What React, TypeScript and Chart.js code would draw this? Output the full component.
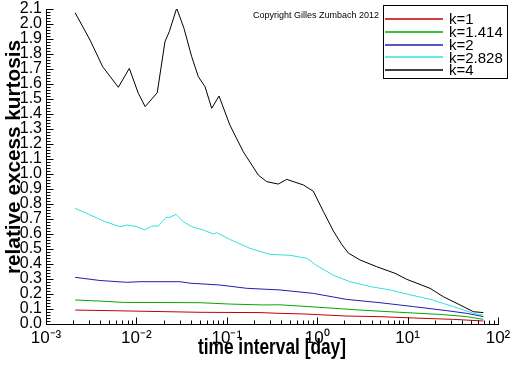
import React, { useEffect, useRef } from "react";
import { Chart, registerables } from "chart.js";

Chart.register(...registerables);

// ---- data (x in days, y relative excess kurtosis) ----
const k1X = [0.0021, 0.0051, 0.0506, 0.233, 0.387, 0.702, 2.12, 4.95, 11.6, 32.1, 68.8];
const k1Y = [0.093, 0.089, 0.078, 0.076, 0.071, 0.067, 0.053, 0.049, 0.04, 0.031, 0.02];

const k1414X = [0.0021, 0.00395, 0.00716, 0.0506, 0.108, 0.254, 0.387, 1.07, 2.97, 8.24, 22.8, 45.1, 68.8];
const k1414Y = [0.16, 0.153, 0.144, 0.142, 0.133, 0.127, 0.128, 0.111, 0.093, 0.078, 0.064, 0.049, 0.031];

const k2X = [0.0021, 0.00395, 0.00782, 0.011, 0.0303, 0.0392, 0.0841, 0.166, 0.387, 0.906, 2.12, 4.95, 11.6, 27.1, 45.1, 68.8];
const k2Y = [0.311, 0.29, 0.278, 0.282, 0.282, 0.272, 0.26, 0.238, 0.227, 0.204, 0.164, 0.142, 0.116, 0.089, 0.071, 0.049];

const k2828X = [0.0021, 0.00307, 0.0045, 0.00659, 0.00793, 0.0101, 0.0124, 0.0148, 0.0175, 0.0212, 0.0235, 0.0274, 0.033, 0.0409, 0.055, 0.0709, 0.0773, 0.108, 0.181, 0.301, 0.5, 0.765, 0.988, 1.51, 2.31, 3.84, 6.38, 10.6, 17.7, 32.1, 53.4, 68.8];
const k2828Y = [0.771, 0.727, 0.682, 0.649, 0.66, 0.649, 0.627, 0.653, 0.653, 0.711, 0.711, 0.731, 0.682, 0.649, 0.627, 0.6, 0.609, 0.564, 0.504, 0.464, 0.458, 0.438, 0.39, 0.325, 0.282, 0.25, 0.227, 0.195, 0.165, 0.116, 0.071, 0.06];

const k4X = [0.0021, 0.00307, 0.00424, 0.00631, 0.00835, 0.0105, 0.0125, 0.017, 0.0207, 0.0231, 0.0279, 0.0336, 0.0409, 0.0484, 0.0574, 0.0681, 0.082, 0.108, 0.152, 0.223, 0.276, 0.371, 0.46, 0.702, 0.906, 1.17, 1.51, 1.87, 2.21, 2.97, 4.55, 7.26, 9.78, 17.7, 24.8, 38.0, 53.4, 68.8];
const k4Y = [2.075, 1.893, 1.715, 1.578, 1.704, 1.538, 1.449, 1.542, 1.882, 1.949, 2.105, 1.971, 1.782, 1.649, 1.582, 1.438, 1.52, 1.327, 1.149, 0.993, 0.949, 0.933, 0.964, 0.927, 0.885, 0.75, 0.62, 0.53, 0.473, 0.427, 0.382, 0.338, 0.298, 0.238, 0.182, 0.127, 0.082, 0.076];

const seriesLabels = ["k=1", "k=1.414", "k=2", "k=2.828", "k=4"];
const seriesColors = ["#c00000", "#00a800", "#2020b0", "#30e0e0", "#000000"];
const seriesX = [k1X, k1414X, k2X, k2828X, k4X];
const seriesY = [k1Y, k1414Y, k2Y, k2828Y, k4Y];

const xDecades = [1e-3, 1e-2, 1e-1, 1e0, 1e1, 1e2];
const xTickLabels = ["10⁻³", "10⁻²", "10⁻¹", "10⁰", "10¹", "10²"];
const yMin = 0;
const yMax = 2.1;
const xTitle = "time interval [day]";
const yTitle = "relative excess kurtosis";
const copyright = "Copyright Gilles Zumbach 2012";

const SANS = "'Liberation Sans', Arial, sans-serif";

const inwardTicks = {
  id: "inwardTicks",
  afterDraw(chart: any) {
    const { ctx, scales } = chart;
    const xs = scales.x;
    const ys = scales.y;
    const bottom = Math.round(ys.getPixelForValue(yMin)) + 0.5;
    const left = Math.round(xs.getPixelForValue(xDecades[0])) + 0.5;
    ctx.save();
    ctx.strokeStyle = "#000";
    ctx.lineWidth = 1;
    ctx.beginPath();
    for (let d = 0; d < xDecades.length; d++) {
      const base = xDecades[d];
      const px = Math.round(xs.getPixelForValue(base)) + 0.5;
      ctx.moveTo(px, bottom);
      ctx.lineTo(px, bottom - 7);
      if (d < xDecades.length - 1) {
        for (let m = 2; m <= 9; m++) {
          const p = Math.round(xs.getPixelForValue(base * m)) + 0.5;
          ctx.moveTo(p, bottom);
          ctx.lineTo(p, bottom - 4);
        }
      }
    }
    for (let i = 0; i <= 105; i++) {
      const v = i * 0.02;
      if (v > yMax + 1e-9) break;
      const py = Math.round(ys.getPixelForValue(v)) + 0.5;
      const major = i % 5 === 0;
      ctx.moveTo(left, py);
      ctx.lineTo(left + (major ? 7 : 4), py);
    }
    ctx.stroke();
    ctx.restore();
  },
};

function drawFitted(ctx: CanvasRenderingContext2D, text: string, target: number) {
  const w = ctx.measureText(text).width;
  const s = target / w;
  ctx.scale(s, 1);
  ctx.fillText(text, 0, 0);
}

const titlesAndLegend = {
  id: "titlesAndLegend",
  afterDraw(chart: any) {
    const { ctx, chartArea } = chart;
    ctx.save();
    ctx.fillStyle = "#000";
    ctx.textAlign = "center";
    ctx.textBaseline = "alphabetic";
    // x title
    ctx.font = `bold 22px ${SANS}`;
    ctx.save();
    ctx.translate((chartArea.left + chartArea.right) / 2, 354);
    drawFitted(ctx, xTitle, 148);
    ctx.restore();
    // y title
    ctx.font = `bold 20px ${SANS}`;
    ctx.save();
    ctx.translate(20, 157);
    ctx.rotate(-Math.PI / 2);
    drawFitted(ctx, yTitle, 234);
    ctx.restore();

    // copyright
    ctx.textAlign = "left";
    ctx.textBaseline = "middle";
    ctx.font = `9px ${SANS}`;
    ctx.fillText(copyright, 253, 16);
    // legend box
    ctx.fillStyle = "#fff";
    ctx.fillRect(383.5, 5.5, 124, 73);
    ctx.strokeStyle = "#000";
    ctx.lineWidth = 1;
    ctx.strokeRect(383.5, 5.5, 124, 73);
    ctx.font = `15px ${SANS}`;
    for (let i = 0; i < seriesLabels.length; i++) {
      const y = 19 + i * 12.8;
      ctx.strokeStyle = seriesColors[i];
      ctx.lineWidth = 1.3;
      ctx.beginPath();
      ctx.moveTo(385, Math.round(y));
      ctx.lineTo(443, Math.round(y));
      ctx.stroke();
      ctx.fillStyle = "#000";
      ctx.fillText(seriesLabels[i], 449, y + 1);
    }
    ctx.restore();
  },
};

export default function App() {
  const ref = useRef<HTMLCanvasElement | null>(null);
  useEffect(() => {
    document.body.style.margin = "0";
    const canvas = ref.current;
    if (!canvas) return;
    const chart = new Chart(canvas, {
      type: "line",
      data: {
        datasets: seriesLabels.map((label, i) => ({
          label,
          data: seriesX[i].map((x, j) => ({ x, y: seriesY[i][j] })),
          borderColor: seriesColors[i],
          backgroundColor: seriesColors[i],
          borderWidth: 1,
          pointRadius: 0,
          tension: 0,
          fill: false,
        })),
      },
      options: {
        animation: false,
        responsive: false,
        maintainAspectRatio: false,
        layout: { padding: { top: 9, right: 14, left: 0, bottom: 0 } },
        plugins: {
          legend: { display: false },
          tooltip: { enabled: false },
        },
        scales: {
          x: {
            type: "logarithmic",
            position: "bottom",
            min: 1e-3,
            max: 1e2,
            grid: { display: false, drawTicks: false },
            border: { display: true, color: "#000", width: 1 },
            afterBuildTicks: (scale: any) => {
              scale.ticks = xDecades.map((v) => ({ value: v }));
            },
            afterFit: (scale: any) => {
              scale.height = 42;
              scale.paddingLeft = 0;
              scale.paddingRight = 0;
            },
            ticks: {
              autoSkip: false,
              maxRotation: 0,
              padding: 4,
              color: "#000",
              font: { family: SANS, size: 17 },
              callback: (v: any) => {
                const i = xDecades.findIndex((d) => Math.abs(Math.log10(d) - Math.log10(v)) < 1e-6);
                return i >= 0 ? xTickLabels[i] : "";
              },
            },
          },
          y: {
            type: "linear",
            min: yMin,
            max: yMax,
            grid: { display: false, drawTicks: false },
            border: { display: true, color: "#000", width: 1 },
            afterFit: (scale: any) => {
              scale.width = 46;
              scale.paddingTop = 0;
              scale.paddingBottom = 0;
            },
            ticks: {
              stepSize: 0.1,
              autoSkip: false,
              padding: 4,
              color: "#000",
              font: { family: SANS, size: 16 },
              callback: (v: any) => Number(v).toFixed(1),
            },
          },
        },
      },
      plugins: [inwardTicks, titlesAndLegend],
    } as any);
    return () => chart.destroy();
  }, []);
  return (
    <div style={{ width: 512, height: 366, background: "#fff" }}>
      <canvas ref={ref} width={512} height={366} style={{ display: "block" }} />
    </div>
  );
}
